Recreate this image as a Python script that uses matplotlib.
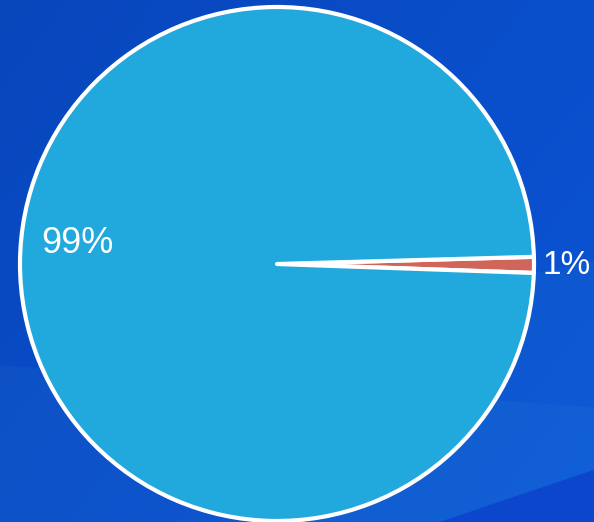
import numpy as np
import matplotlib.pyplot as plt
from matplotlib.patches import Polygon

# share of each group
labels = ['1%', '99%']
values = [1, 99]
colors = ['#d0665a', '#21a8dc']

W, H = 594, 522
fig = plt.figure(figsize=(W / 100, H / 100), dpi=100)

# blue backdrop with a soft diagonal gradient
bg = fig.add_axes([0, 0, 1, 1])
yy, xx = np.mgrid[0:1:200j, 0:1:200j]
c0 = np.array([0x08, 0x46, 0xbc]) / 255
c1 = np.array([0x0b, 0x55, 0xd6]) / 255
t = np.clip(0.6 * xx + 0.4 * yy, 0, 1)[..., None]
img = c0 * (1 - t) + c1 * t
bg.imshow(img, extent=[0, 1, 1, 0], aspect='auto')
# lighter band in the lower right
bg.add_patch(Polygon([[0, 0.70], [1, 0.78], [1, 1], [0, 1]], closed=True,
                     facecolor='#3a90e0', alpha=0.10, lw=0))
bg.add_patch(Polygon([[0.5, 0.62], [1, 0.50], [1, 0.92], [0.74, 1.0], [0.5, 1]],
                     closed=True, facecolor='#2a8ae0', alpha=0.12, lw=0))
bg.add_patch(Polygon([[0.74, 1.0], [1, 0.90], [1, 1]], closed=True,
                     facecolor='#0b46cc', lw=0))
bg.set_xlim(0, 1)
bg.set_ylim(1, 0)
bg.axis('off')

# pie, centre at (277, 264) px with radius 257 px
cx, cy, r = 277, 264, 257
ax = fig.add_axes([(cx - r) / W, (H - cy - r) / H, 2 * r / W, 2 * r / H])
wedges, _ = ax.pie(values, colors=colors, startangle=-2.0, counterclock=True,
                   radius=1.0,
                   wedgeprops=dict(edgecolor='white', linewidth=3,
                                   joinstyle='round'))
ax.set_xlim(-1, 1)
ax.set_ylim(-1, 1)
ax.set_aspect('equal')
ax.axis('off')

fnt = dict(color='white', family='Liberation Sans')
ax.text(1.035, -0.005, labels[0], ha='left', va='center', fontsize=24, **fnt)
ang = np.deg2rad(174.0)
ax.text(0.78 * np.cos(ang), 0.78 * np.sin(ang), labels[1],
        ha='center', va='center', fontsize=26, **fnt)

fig.savefig('out.png', dpi=100)
